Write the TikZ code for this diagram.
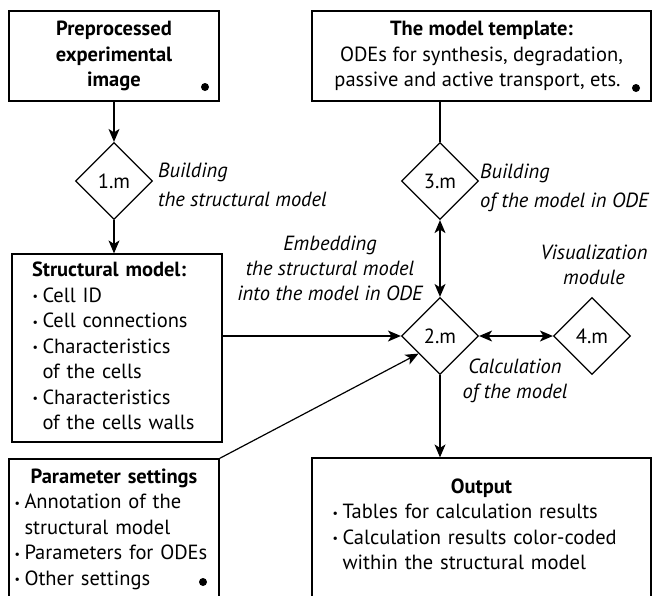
\documentclass[tikz,border=0pt]{standalone}
\usepackage{fontspec}
\setmainfont{PT Sans}
\usetikzlibrary{shapes.geometric,arrows.meta,calc}
\newcommand{\itm}{\makebox[10.5pt][l]{\hspace*{0.5pt}\raisebox{1.5pt}{\fontsize{12}{12}\selectfont\textbullet}}}
\newcommand{\ind}{\hspace*{10.5pt}}
\begin{document}
\begin{tikzpicture}[x=1pt,y=-1pt,
  every node/.style={font=\fontsize{20.5}{25.5}\selectfont, inner sep=0pt},
  box/.style={draw, line width=1.2pt, rectangle},
  txt/.style={font=\fontsize{20.5}{25.5}\selectfont},
  dia/.style={draw, line width=1.2pt, diamond, aspect=1, minimum width=77pt, minimum height=77pt},
  lbl/.style={font=\fontsize{20.5}{25}\selectfont\itshape},
  lblw/.style={font=\fontsize{20.5}{29}\selectfont\itshape},
  conn/.style={line width=1.2pt},
  tip/.tip={Stealth[length=13pt,width=11pt,inset=3.5pt]},
  arr/.style={conn,-tip},
  darr/.style={conn,tip-tip},
  dotmark/.style={circle, fill, minimum size=8pt, inner sep=0pt}
]
\useasboundingbox (0,0) rectangle (652,595);
\clip (0,0) rectangle (652,595);

% boxes
\node[box, minimum width=210pt, minimum height=90pt, align=center, font=\fontsize{20.5}{25.5}\selectfont\bfseries] (img) at (114,56)
  {\strut Preprocessed\\experimental\\image\strut};
\node[box, minimum width=339pt, minimum height=90pt, align=center] (tmpl) at (481.5,56)
  {\strut\textbf{The model template:}\\ODEs for synthesis, degradation,\\passive and active transport, ets.\hspace*{8pt}\strut};
\node[box, minimum width=210pt, minimum height=188pt, text width=170pt, align=left] (struct) at (117,348)
  {\strut\textbf{Structural model:}\\
   \itm Cell ID\\
   \itm Cell connections\\
   \itm Characteristics\\
   \ind of the cells\\
   \itm Characteristics\\
   \ind of the cells walls\strut};
\node[box, minimum width=210pt, minimum height=146pt] (parambox) at (114,532) {};
\node[txt, text width=200pt, align=left] (paramtext) at (114,529)
  {\strut\makebox[200pt]{\textbf{Parameter settings}}\\
   \itm Annotation of the\\
   \ind structural model\\
   \itm Parameters for ODEs\\
   \itm Other settings\strut};
\node[box, minimum width=339pt, minimum height=147pt] (outbox) at (481.5,531.5) {};
\node[txt, text width=299pt, align=left] (outtext) at (481.5,526.5)
  {\strut\makebox[299pt]{\textbf{Output}}\\
   \itm Tables for calculation results\\
   \itm Calculation results color-coded\\
   \ind within the structural model\strut};

% dots
\node[dotmark] (dotA) at (205,87) {};
\node[dotmark] (dotB) at (636,88) {};
\node[dotmark] (dotC) at (203,582) {};

% diamonds
\node[dia] (d1) at (114,181) {1.m};
\node[dia] (d3) at (440,181) {3.m};
\node[dia] (d2) at (440,336) {2.m};
\node[dia] (d4) at (592,336) {4.m};

% labels
\node[lblw, align=left, anchor=west] (l1) at (158,185.7) {\strut Building\\the structural model\strut};
\node[lblw, align=left, anchor=west] (l3) at (480,186.7) {\strut Building\\of the model in ODE\strut};
\node[lbl, align=center] (l2) at (330,270) {\strut Embedding\\the structural model\\into the model in ODE\strut};
\node[lbl, align=center] (l4) at (594,266.5) {\strut Visualization\\module\strut};
\node[lbl, align=center] (l5) at (515,380.5) {\strut Calculation\\of the model\strut};

% connectors
\draw[arr] (img.south) -- (d1.north);
\draw[arr] (d1.south) -- (struct.north -| d1.south);
\draw[conn] (d3.north |- tmpl.south) -- (d3.north);
\draw[darr] (d3.south) -- (d2.north);
\draw[arr] (struct.east |- d2.west) -- (d2.west);
\draw[arr] (parambox.north east) -- ($(d2.west)!0.45!(d2.south)$);
\draw[darr] (d2.east) -- (d4.west);
\draw[arr] (d2.south) -- (d2.south |- outbox.north);
\end{tikzpicture}
\end{document}
